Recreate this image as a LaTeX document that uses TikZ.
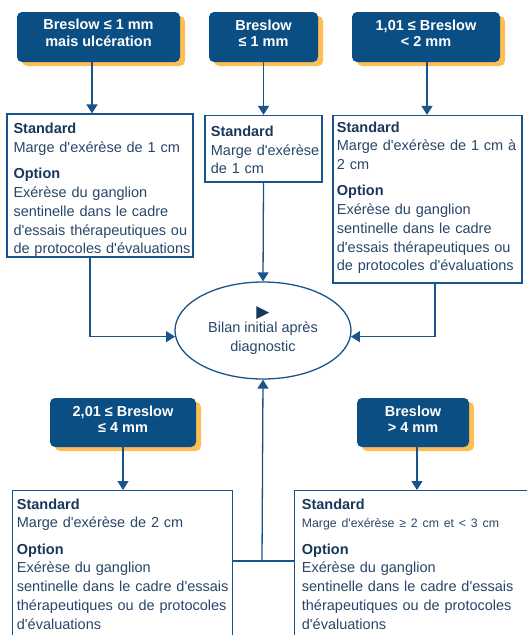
\documentclass[tikz,border=0pt]{standalone}
\usepackage{fontspec}
\newfontfamily\lsans{Liberation Sans}
\newfontfamily\dejavu{DejaVu Sans}
\usetikzlibrary{arrows.meta,shapes.geometric}
\definecolor{navy}{RGB}{10,78,132}
\definecolor{gold}{RGB}{253,190,85}
\definecolor{edge}{RGB}{24,84,138}
\definecolor{bodytext}{RGB}{40,70,105}
\definecolor{headtext}{RGB}{25,55,90}
\newcommand\boxhead[1]{{\bfseries\color{headtext}#1}}
\begin{document}
\begin{tikzpicture}[x=1pt,y=-1pt,font=\lsans,
  catbox/.style={fill=navy, rounded corners=5pt, inner sep=0pt,
    preaction={fill=gold, transform canvas={xshift=5pt,yshift=-4pt}}},
  cattext/.style={text=white, align=center, inner sep=0pt,
    font=\lsans\bfseries\fontsize{14.5}{16.5}\selectfont},
  infobox/.style={draw=edge, line width=1.3pt, inner sep=0pt},
  infotext/.style={anchor=base west, inner sep=0pt, text width=240pt, align=left,
    text=bodytext, font=\lsans\fontsize{14.5}{18.7}\selectfont},
  goal/.style={ellipse, draw=edge, line width=1.3pt, inner sep=0pt,
    minimum width=176pt, minimum height=97pt, align=center, text=bodytext,
    font=\lsans\fontsize{14.5}{18.5}\selectfont},
  link/.style={draw=edge, line width=1.3pt},
  arr/.style={link, -{Triangle[width=11pt,length=9pt]}}
]
\useasboundingbox (0,0) rectangle (527,635);
\clip (0,0) rectangle (527,635);

% x positions of the vertical connectors
\coordinate (x1) at (92,0);
\coordinate (x3) at (427,0);
\coordinate (lx) at (90,0);
\coordinate (rx) at (435,0);
\coordinate (x5) at (417,0);
\coordinate (j) at (262,561);

% top category boxes
\node[catbox, minimum width=163pt, minimum height=50pt] (t1) at (98.5,37) {};
\node[cattext] (t1text) at ([yshift=4pt]t1.center) {Breslow ≤ 1 mm\\mais ulcération};
\node[catbox, minimum width=109pt, minimum height=50pt] (t2) at (263.5,37) {};
\node[cattext] (t2text) at ([yshift=4pt]t2.center) {Breslow\\≤ 1 mm};
\node[catbox, minimum width=148pt, minimum height=50pt] (t3) at (426,37) {};
\node[cattext] (t3text) at ([yshift=4pt]t3.center) {1,01 ≤ Breslow\\< 2 mm};

% recommendation boxes, upper row
\node[infobox, minimum width=186pt, minimum height=143pt] (m1) at (100,185.5) {};
\node[infotext] (m1text) at (13.3,133.7) {\boxhead{Standard}\\Marge d'exérèse de 1 cm\\[7.8pt]\boxhead{Option}\\Exérèse du ganglion\\sentinelle dans le cadre\\d'essais thérapeutiques ou\\de protocoles d'évaluations};
\node[infobox, minimum width=117pt, minimum height=66.5pt] (m2) at (263.5,148.75) {};
\node[infotext] (m2text) at (210.7,136.5) {\boxhead{Standard}\\Marge d'exérèse\\de 1 cm};
\node[infobox, minimum width=189pt, minimum height=167.5pt] (m3) at (427.5,199.25) {};
\node[infotext] (m3text) at (336.7,132) {\boxhead{Standard}\\Marge d'exérèse de 1 cm à\\2 cm\\[7.8pt]\boxhead{Option}\\Exérèse du ganglion\\sentinelle dans le cadre\\d'essais thérapeutiques ou\\de protocoles d'évaluations};

% central goal
\node[goal] (ell) at (263,330.5) {{\dejavu\fontsize{17}{17}\selectfont\color{headtext}▶}\\[-3pt]Bilan initial après\\diagnostic};

% bottom category boxes
\node[catbox, minimum width=146pt, minimum height=49pt] (b1) at (123,422.5) {};
\node[cattext] (b1text) at ([yshift=3.5pt]b1.center) {2,01 ≤ Breslow\\≤ 4 mm};
\node[catbox, minimum width=112pt, minimum height=49pt] (b2) at (413,422.5) {};
\node[cattext] (b2text) at ([yshift=3.5pt]b2.center) {Breslow\\> 4 mm};

% recommendation boxes, lower row (open at the bottom)
\node[infobox, anchor=north west, minimum width=220pt, minimum height=180pt] (c1) at (12,490) {};
\node[infotext] (c1text) at (16.7,509) {\boxhead{Standard}\\Marge d'exérèse de 2 cm\\[7.8pt]\boxhead{Option}\\Exérèse du ganglion\\sentinelle dans le cadre d'essais\\thérapeutiques ou de protocoles\\d'évaluations};
\node[infobox, anchor=north west, minimum width=260pt, minimum height=180pt] (c2) at (294,490) {};
\node[infotext] (c2text) at (301.7,509) {\boxhead{Standard}\\{\fontsize{12.3}{18.7}\selectfont Marge d'exérèse ≥ 2 cm et < 3 cm}\\[7.8pt]\boxhead{Option}\\Exérèse du ganglion\\sentinelle dans le cadre d'essais\\thérapeutiques ou de protocoles\\d'évaluations};

% connectors
\draw[arr] (t1.south -| x1) -- (m1.north -| x1);
\draw[arr] (t2.south) -- (m2.north);
\draw[arr] (t3.south -| x3) -- (m3.north -| x3);
\draw[arr] (m1.south -| lx) |- (ell.184);
\draw[arr] (m2.south) -- (ell.north);
\draw[arr] (m3.south -| rx) |- (ell.356);
\draw[arr] (b1.south) -- (b1.south |- c1.north);
\draw[arr] (b2.south -| x5) -- (c2.north -| x5);
\draw[link] (c1.east |- j) -- (c2.west |- j);
\draw[arr] (j) -- (ell.south);
\end{tikzpicture}
\end{document}
